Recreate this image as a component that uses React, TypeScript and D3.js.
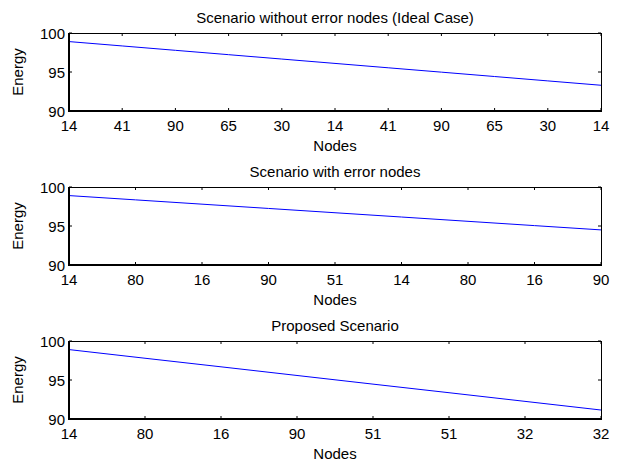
import React from 'react';
import * as d3 from 'd3';

// tick labels under each panel (node ids)
const nodesIdeal = ['14', '41', '90', '65', '30', '14', '41', '90', '65', '30', '14'];
const nodesError = ['14', '80', '16', '90', '51', '14', '80', '16', '90'];
const nodesProposed = ['14', '80', '16', '90', '51', '51', '32', '32'];

// residual energy at each tick
const energyIdeal = [98.9, 98.34, 97.78, 97.22, 96.66, 96.1, 95.54, 94.98, 94.42, 93.86, 93.3];
const energyError = [98.9, 98.35, 97.8, 97.25, 96.7, 96.15, 95.6, 95.05, 94.5];
const energyProposed = [98.9, 97.79, 96.69, 95.58, 94.47, 93.37, 92.26, 91.15];

const titles = [
  'Scenario without error nodes (Ideal Case)',
  'Scenario with error nodes',
  'Proposed Scenario',
];

const yTicks = [90, 95, 100];

const W = 621;
const H = 464;
const left = 69;
const right = 601;
const panelTops = [33, 187, 341];
const panelH = 78;
const font = 'Liberation Sans, Arial, sans-serif';

type PanelProps = { top: number; title: string; labels: string[]; values: number[] };

const Panel = ({ top, title, labels, values }: PanelProps) => {
  const bottom = top + panelH;
  const x = d3.scaleLinear().domain([0, labels.length - 1]).range([left, right]);
  const y = d3.scaleLinear().domain([90, 100]).range([bottom, top]);
  const line = d3.line<number>()
    .x((_, i) => x(i))
    .y(d => y(d));
  const tl = 3;

  return (
    <g>
      <text x={(left + right) / 2} y={top - 10} textAnchor="middle" fontSize={15} fontFamily={font}>
        {title}
      </text>
      <path d={line(values) || ''} fill="none" stroke="#0000ff" strokeWidth={1} />
      {/* ticks */}
      {labels.map((_, i) => (
        <g key={'xt' + i}>
          <line x1={x(i)} x2={x(i)} y1={bottom} y2={bottom - tl} stroke="#000" />
          <line x1={x(i)} x2={x(i)} y1={top} y2={top + tl} stroke="#000" />
        </g>
      ))}
      {yTicks.map(t => (
        <g key={'yt' + t}>
          <line x1={left} x2={left + tl} y1={y(t)} y2={y(t)} stroke="#000" />
          <line x1={right} x2={right - tl} y1={y(t)} y2={y(t)} stroke="#000" />
        </g>
      ))}
      {/* box */}
      <line x1={left} x2={right} y1={top + 0.5} y2={top + 0.5} stroke="#000" strokeWidth={1} />
      <line x1={right + 0.5} x2={right + 0.5} y1={top} y2={bottom} stroke="#000" strokeWidth={1} />
      <line x1={left} x2={right + 1} y1={bottom} y2={bottom} stroke="#000" strokeWidth={2} />
      <line x1={left} x2={left} y1={top} y2={bottom + 1} stroke="#000" strokeWidth={2} />
      {/* tick labels */}
      {labels.map((l, i) => (
        <text key={'xl' + i} x={x(i)} y={bottom + 20} textAnchor="middle" fontSize={15} fontFamily={font}>
          {l}
        </text>
      ))}
      {yTicks.map(t => (
        <text key={'yl' + t} x={left - 4} y={y(t) + 6} textAnchor="end" fontSize={15} fontFamily={font}>
          {t}
        </text>
      ))}
      <text x={(left + right) / 2} y={bottom + 40} textAnchor="middle" fontSize={15} fontFamily={font}>
        Nodes
      </text>
      <text
        transform={`translate(23,${(top + bottom) / 2}) rotate(-90)`}
        textAnchor="middle"
        fontSize={15}
        fontFamily={font}
      >
        Energy
      </text>
    </g>
  );
};

export default function App() {
  const labelSets = [nodesIdeal, nodesError, nodesProposed];
  const valueSets = [energyIdeal, energyError, energyProposed];
  return (
    <svg width={W} height={H} style={{ position: 'absolute', left: 0, top: 0, background: '#fff' }}>
      <rect width={W} height={H} fill="#fff" />
      {panelTops.map((t, i) => (
        <Panel key={i} top={t} title={titles[i]} labels={labelSets[i]} values={valueSets[i]} />
      ))}
    </svg>
  );
}
